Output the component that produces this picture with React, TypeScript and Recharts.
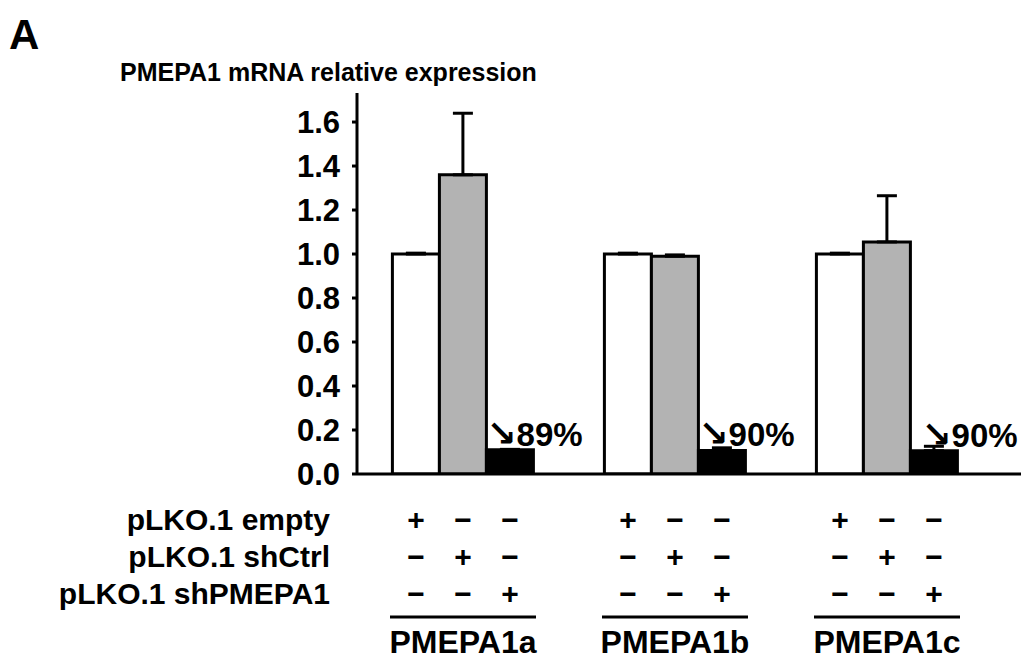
import { Bar, BarChart, ErrorBar, LabelList, XAxis, YAxis } from 'recharts'

const categories = ['PMEPA1a', 'PMEPA1b', 'PMEPA1c']
const emptyValues = [1.0, 1.0, 1.0]
const shCtrlValues = [1.36, 0.99, 1.055]
const shPmepaValues = [0.11, 0.107, 0.106]
const emptyErrors = [0.004, 0.004, 0.004]
const shCtrlErrors = [0.28, 0.006, 0.21]
const shPmepaErrors = [0.002, 0.012, 0.02]
const knockdownLabels = ['89%', '90%', '90%']
const conditionRows = ['pLKO.1 empty', 'pLKO.1 shCtrl', 'pLKO.1 shPMEPA1']
const signRows = [
  ['+', '−', '−'],
  ['−', '+', '−'],
  ['−', '−', '+'],
]
const yTicks = [0, 0.2, 0.4, 0.6, 0.8, 1.0, 1.2, 1.4, 1.6]

const FONT = '"Liberation Sans", Arial, sans-serif'
const labelDx = [0, 0, 11]

const chartData = categories.map((name, i) => ({
  name,
  empty: emptyValues[i],
  shCtrl: shCtrlValues[i],
  shPmepa: shPmepaValues[i],
  emptyErr: [0, emptyErrors[i]],
  shCtrlErr: [0, shCtrlErrors[i]],
  shPmepaErr: [0, shPmepaErrors[i]],
  knock: knockdownLabels[i],
}))

function GroupTick(props: any) {
  const { x, y, payload, index } = props
  return (
    <g fontFamily={FONT} fontWeight="bold" fill="#000">
      {signRows.map((row, r) =>
        row.map((s, c) => (
          <text
            key={`${r}-${c}`}
            x={x + (c - 1) * 47}
            y={y + 45 + r * 37}
            dy="0.36em"
            textAnchor="middle"
            fontSize={30}
          >
            {s}
          </text>
        )),
      )}
      <line x1={x - 73} x2={x + 73} y1={y + 143} y2={y + 143} stroke="#000" strokeWidth={3} />
      <text x={x} y={y + 167} dy="0.36em" textAnchor="middle" fontSize={32}>
        {payload.value}
      </text>
      {index === 0 &&
        conditionRows.map((label, r) => (
          <text key={label} x={330} y={y + 45 + r * 37} dy="0.36em" textAnchor="end" fontSize={30}>
            {label}
          </text>
        ))}
    </g>
  )
}

function KnockLabel(props: any) {
  const { x, y, index, value } = props
  return (
    <text
      x={x + labelDx[index]}
      y={y - 4}
      textAnchor="start"
      fontFamily={FONT}
      fontWeight="bold"
      fontSize={33}
      fill="#000"
    >
      <tspan fontFamily='"DejaVu Sans", sans-serif' fontSize={36}>
        ↘
      </tspan>
      {value}
    </text>
  )
}

export default function App() {
  return (
    <div style={{ position: 'absolute', left: 0, top: 0, width: 1021, height: 666, background: '#fff' }}>
      <div
        style={{
          position: 'absolute',
          left: 9,
          top: 12,
          fontFamily: FONT,
          fontWeight: 'bold',
          fontSize: 42,
          lineHeight: '46px',
        }}
      >
        A
      </div>
      <div
        style={{
          position: 'absolute',
          left: 120,
          top: 57,
          fontFamily: FONT,
          fontWeight: 'bold',
          fontSize: 25,
          lineHeight: '30px',
          whiteSpace: 'nowrap',
        }}
      >
        PMEPA1 mRNA relative expression
      </div>
      <BarChart
        width={1021}
        height={666}
        data={chartData}
        margin={{ top: 93, right: 0, bottom: 2, left: 277 }}
        barGap={0}
        barCategoryGap="16.7%"
      >
        <XAxis
          dataKey="name"
          height={190}
          axisLine={{ stroke: '#000', strokeWidth: 3 }}
          tickLine={false}
          tickSize={0}
          tickMargin={0}
          padding={{ left: 0, right: 28 }}
          interval={0}
          tick={<GroupTick />}
        />
        <YAxis
          width={80}
          domain={[0, 1.732]}
          ticks={yTicks}
          allowDataOverflow
          tickFormatter={(v: number) => v.toFixed(1)}
          axisLine={{ stroke: '#000', strokeWidth: 3 }}
          tickLine={{ stroke: '#000', strokeWidth: 3 }}
          tickSize={5}
          tickMargin={12}
          tick={{ fill: '#000', fontSize: 31, fontWeight: 'bold', fontFamily: FONT }}
        />
        <Bar dataKey="empty" fill="#ffffff" stroke="#000" strokeWidth={3} isAnimationActive={false}>
          <ErrorBar dataKey="emptyErr" width={10} stroke="#000" strokeWidth={3} direction="y" />
        </Bar>
        <Bar dataKey="shCtrl" fill="#b3b3b3" stroke="#000" strokeWidth={3} isAnimationActive={false}>
          <ErrorBar dataKey="shCtrlErr" width={10} stroke="#000" strokeWidth={3} direction="y" />
        </Bar>
        <Bar dataKey="shPmepa" fill="#000" stroke="#000" strokeWidth={3} isAnimationActive={false}>
          <ErrorBar dataKey="shPmepaErr" width={10} stroke="#000" strokeWidth={3} direction="y" />
          <LabelList dataKey="knock" content={<KnockLabel />} />
        </Bar>
      </BarChart>
    </div>
  )
}
